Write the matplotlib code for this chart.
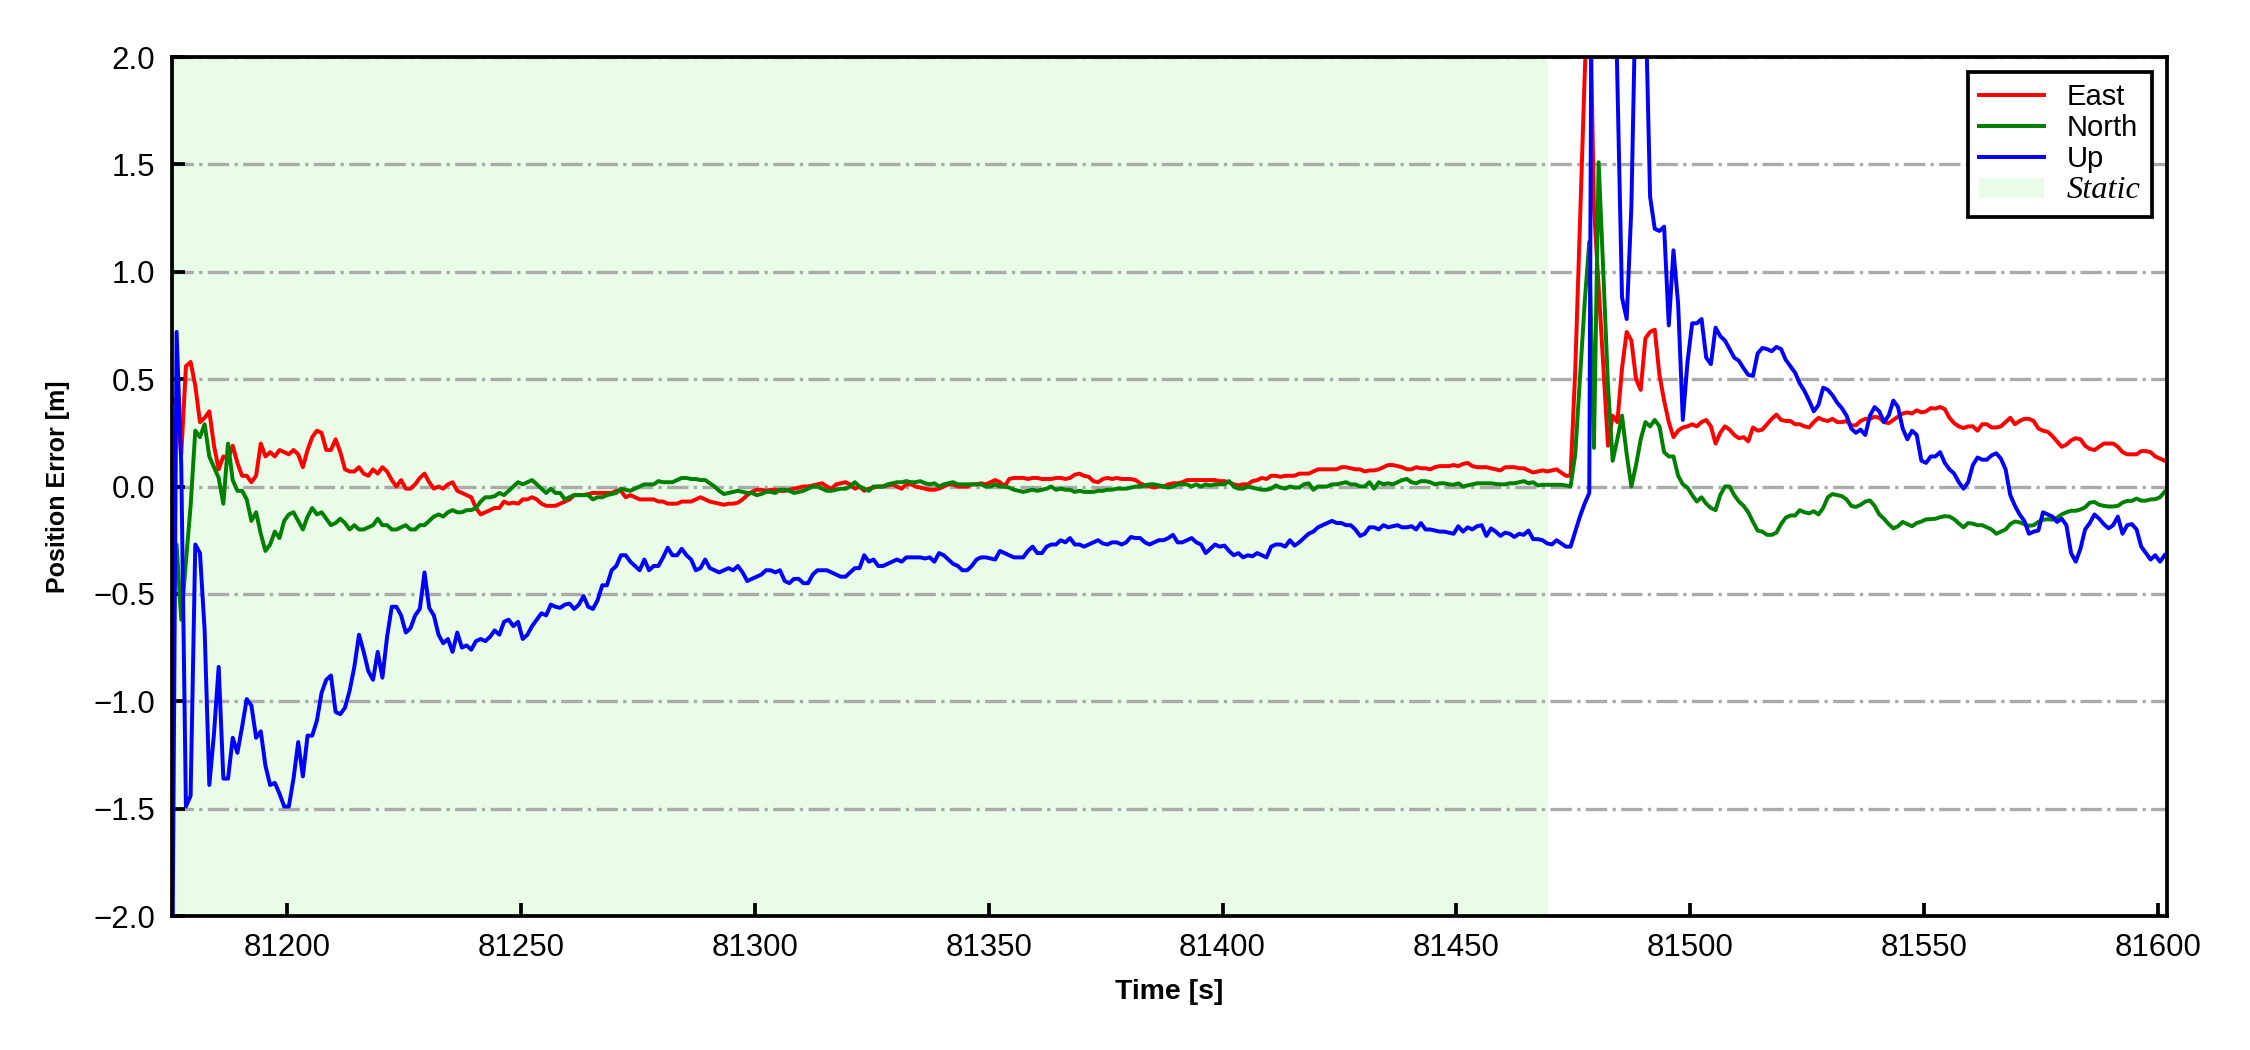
import numpy as np
import matplotlib
matplotlib.use("Agg")
import matplotlib.pyplot as plt
from matplotlib.patches import Patch
from matplotlib.lines import Line2D

# ---------------- data ----------------
T0 = 81175.4          # first epoch [s]
DT = 1.0              # sampling interval [s]
STATIC_END = 81469.6  # end of static period [s]

east = [
    0.41, 0.39, 0.15, 0.56, 0.58, 0.47, 0.30, 0.32, 0.35, 0.19,
    0.08, 0.14, 0.13, 0.19, 0.11, 0.05, 0.05, 0.02, 0.05, 0.20,
    0.14, 0.16, 0.14, 0.17, 0.16, 0.15, 0.17, 0.15, 0.09, 0.17,
    0.23, 0.26, 0.25, 0.17, 0.17, 0.22, 0.16, 0.08, 0.07, 0.07,
    0.09, 0.06, 0.05, 0.08, 0.06, 0.09, 0.07, 0.03, 0.00, 0.03,
    -0.01, -0.01, 0.01, 0.04, 0.06, 0.02, -0.01, 0.00, -0.01, 0.01,
    0.02, -0.02, -0.03, -0.04, -0.05, -0.10, -0.13, -0.12, -0.11, -0.10,
    -0.10, -0.07, -0.08, -0.075, -0.08, -0.06, -0.06, -0.05, -0.06, -0.08,
    -0.09, -0.09, -0.09, -0.08, -0.07, -0.06, -0.04, -0.04, -0.04, -0.035,
    -0.03, -0.03, -0.03, -0.03, -0.03, -0.02, -0.02, -0.05, -0.04, -0.05,
    -0.06, -0.06, -0.06, -0.06, -0.07, -0.07, -0.08, -0.08, -0.08, -0.07,
    -0.07, -0.07, -0.06, -0.05, -0.06, -0.07, -0.075, -0.08, -0.085, -0.08,
    -0.08, -0.075, -0.06, -0.04, -0.025, -0.015, -0.015, -0.02, -0.015, -0.015,
    -0.02, -0.02, -0.015, -0.01, -0.005, 0.00, 0.00, 0.005, 0.01, 0.015,
    0.00, -0.01, 0.01, 0.015, 0.02, 0.01, -0.01, 0.00, -0.02, -0.01,
    -0.005, 0.00, 0.00, 0.005, 0.01, 0.00, -0.01, 0.01, 0.01, 0.00,
    -0.005, -0.01, -0.015, -0.015, -0.01, 0.00, 0.01, 0.01, 0.00, 0.00,
    0.00, 0.01, 0.01, 0.015, 0.01, 0.02, 0.03, 0.02, 0.00, 0.035,
    0.04, 0.04, 0.04, 0.035, 0.04, 0.04, 0.035, 0.035, 0.035, 0.04,
    0.04, 0.035, 0.04, 0.055, 0.06, 0.05, 0.045, 0.025, 0.02, 0.035,
    0.04, 0.035, 0.04, 0.035, 0.035, 0.035, 0.03, 0.015, 0.005, 0.00,
    -0.005, 0.00, 0.00, 0.01, 0.015, 0.015, 0.02, 0.03, 0.03, 0.03,
    0.03, 0.03, 0.03, 0.03, 0.025, 0.025, 0.02, 0.01, 0.005, 0.01,
    0.01, 0.025, 0.03, 0.04, 0.035, 0.05, 0.05, 0.045, 0.05, 0.05,
    0.05, 0.06, 0.06, 0.06, 0.07, 0.08, 0.08, 0.08, 0.08, 0.08,
    0.09, 0.09, 0.085, 0.08, 0.08, 0.07, 0.075, 0.075, 0.08, 0.09,
    0.10, 0.10, 0.095, 0.09, 0.08, 0.08, 0.09, 0.085, 0.085, 0.08,
    0.09, 0.095, 0.095, 0.095, 0.10, 0.095, 0.105, 0.11, 0.095, 0.09,
    0.09, 0.09, 0.085, 0.08, 0.075, 0.09, 0.09, 0.09, 0.085, 0.085,
    0.075, 0.065, 0.07, 0.075, 0.07, 0.075, 0.08, 0.065, 0.05, 0.05,
    0.54, 1.22, 1.90, 2.50, 1.30, 0.93, 0.56, 0.19, 0.33, 0.30,
    0.55, 0.72, 0.68, 0.50, 0.45, 0.69, 0.72, 0.73, 0.52, 0.40,
    0.30, 0.23, 0.26, 0.275, 0.28, 0.29, 0.28, 0.30, 0.31, 0.28,
    0.20, 0.25, 0.28, 0.265, 0.24, 0.225, 0.23, 0.21, 0.275, 0.26,
    0.265, 0.29, 0.315, 0.335, 0.31, 0.305, 0.305, 0.29, 0.29, 0.28,
    0.275, 0.30, 0.32, 0.31, 0.305, 0.315, 0.30, 0.30, 0.305, 0.285,
    0.285, 0.305, 0.315, 0.315, 0.325, 0.32, 0.30, 0.295, 0.31, 0.325,
    0.34, 0.345, 0.34, 0.355, 0.345, 0.35, 0.365, 0.363, 0.37, 0.36,
    0.32, 0.295, 0.28, 0.272, 0.28, 0.28, 0.26, 0.29, 0.29, 0.275,
    0.275, 0.28, 0.30, 0.32, 0.29, 0.305, 0.315, 0.315, 0.305, 0.27,
    0.26, 0.255, 0.235, 0.21, 0.185, 0.195, 0.215, 0.225, 0.22, 0.19,
    0.175, 0.17, 0.185, 0.20, 0.20, 0.20, 0.185, 0.16, 0.15, 0.15,
    0.15, 0.165, 0.165, 0.16, 0.14, 0.13, 0.12,
]

north = [
    -0.45, -0.27, -0.62, -0.35, -0.09, 0.26, 0.23, 0.29, 0.14, 0.09,
    0.04, -0.08, 0.20, 0.03, -0.02, -0.02, -0.06, -0.16, -0.12, -0.22,
    -0.30, -0.27, -0.21, -0.24, -0.16, -0.13, -0.12, -0.16, -0.20, -0.14,
    -0.10, -0.13, -0.12, -0.15, -0.18, -0.17, -0.15, -0.17, -0.20, -0.18,
    -0.20, -0.20, -0.19, -0.18, -0.15, -0.18, -0.18, -0.20, -0.20, -0.19,
    -0.18, -0.20, -0.20, -0.18, -0.18, -0.16, -0.14, -0.13, -0.14, -0.12,
    -0.11, -0.12, -0.12, -0.11, -0.11, -0.10, -0.07, -0.05, -0.05, -0.045,
    -0.03, -0.04, -0.02, 0.00, 0.02, 0.01, 0.02, 0.03, 0.01, -0.01,
    -0.03, -0.01, -0.03, -0.03, -0.06, -0.05, -0.04, -0.04, -0.04, -0.04,
    -0.06, -0.05, -0.05, -0.04, -0.035, -0.03, -0.01, -0.015, -0.02, -0.01,
    0.00, 0.01, 0.01, 0.01, 0.025, 0.02, 0.02, 0.02, 0.03, 0.04,
    0.04, 0.035, 0.035, 0.03, 0.03, 0.015, 0.00, -0.02, -0.035, -0.03,
    -0.025, -0.02, -0.025, -0.03, -0.03, -0.04, -0.035, -0.025, -0.025, -0.03,
    -0.015, -0.015, -0.02, -0.03, -0.025, -0.02, -0.01, 0.00, 0.00, -0.01,
    -0.02, -0.02, -0.015, -0.01, -0.01, 0.00, 0.02, 0.00, -0.01, -0.02,
    0.00, 0.00, 0.00, 0.01, 0.015, 0.02, 0.02, 0.025, 0.02, 0.02,
    0.025, 0.015, 0.01, 0.015, 0.00, 0.01, 0.015, 0.02, 0.01, 0.01,
    0.01, 0.01, 0.01, 0.01, 0.00, 0.00, 0.01, 0.00, 0.00, -0.005,
    -0.015, -0.02, -0.025, -0.02, -0.015, -0.02, -0.015, -0.01, 0.00, -0.015,
    -0.01, -0.015, -0.015, -0.025, -0.02, -0.025, -0.025, -0.025, -0.02, -0.02,
    -0.015, -0.015, -0.01, -0.01, -0.01, -0.005, 0.00, 0.00, 0.005, 0.01,
    0.01, 0.005, 0.00, -0.005, 0.00, 0.01, 0.01, 0.01, 0.00, 0.01,
    0.00, 0.01, 0.005, 0.01, 0.01, 0.01, 0.025, 0.00, -0.01, -0.01,
    0.00, -0.005, -0.01, -0.015, -0.015, -0.01, 0.005, -0.005, -0.01, 0.00,
    -0.005, -0.005, 0.01, 0.015, -0.015, 0.00, 0.00, 0.00, 0.01, 0.01,
    0.015, 0.02, 0.01, 0.01, 0.00, 0.00, 0.02, -0.01, 0.02, 0.01,
    0.015, 0.01, 0.02, 0.03, 0.035, 0.02, 0.015, 0.025, 0.025, 0.02,
    0.01, 0.015, 0.015, 0.01, 0.008, 0.015, 0.00, 0.005, 0.01, 0.015,
    0.015, 0.015, 0.015, 0.012, 0.01, 0.01, 0.015, 0.015, 0.02, 0.025,
    0.015, 0.02, 0.005, 0.008, 0.008, 0.008, 0.008, 0.008, 0.005, 0.00,
    0.15, 0.50, 0.85, 1.14, 0.18, 1.51, 1.00, 0.47, 0.12, 0.22,
    0.33, 0.15, 0.00, 0.10, 0.22, 0.30, 0.28, 0.31, 0.28, 0.16,
    0.14, 0.14, 0.05, 0.01, -0.005, -0.04, -0.07, -0.05, -0.08, -0.10,
    -0.11, -0.04, 0.00, 0.00, -0.04, -0.07, -0.09, -0.12, -0.165, -0.205,
    -0.21, -0.225, -0.225, -0.215, -0.175, -0.145, -0.135, -0.135, -0.11, -0.12,
    -0.125, -0.115, -0.13, -0.10, -0.05, -0.035, -0.04, -0.045, -0.06, -0.09,
    -0.095, -0.085, -0.07, -0.065, -0.09, -0.13, -0.15, -0.175, -0.195, -0.185,
    -0.165, -0.175, -0.185, -0.17, -0.163, -0.153, -0.152, -0.15, -0.143, -0.138,
    -0.14, -0.152, -0.172, -0.19, -0.17, -0.173, -0.18, -0.18, -0.19, -0.20,
    -0.22, -0.21, -0.20, -0.175, -0.163, -0.167, -0.175, -0.183, -0.18, -0.165,
    -0.155, -0.152, -0.155, -0.145, -0.13, -0.12, -0.113, -0.113, -0.107, -0.097,
    -0.075, -0.072, -0.085, -0.09, -0.093, -0.093, -0.09, -0.075, -0.067, -0.067,
    -0.056, -0.066, -0.066, -0.06, -0.059, -0.05, -0.025,
]

up = [
    -2.6, 0.72, 0.10, -1.49, -1.44, -0.27, -0.31, -0.67, -1.39, -1.15,
    -0.84, -1.36, -1.36, -1.17, -1.24, -1.12, -0.99, -1.02, -1.17, -1.14,
    -1.30, -1.39, -1.38, -1.43, -1.49, -1.49, -1.36, -1.19, -1.35, -1.16,
    -1.16, -1.09, -0.96, -0.90, -0.88, -1.05, -1.06, -1.03, -0.95, -0.84,
    -0.69, -0.77, -0.86, -0.90, -0.77, -0.89, -0.70, -0.56, -0.56, -0.60,
    -0.68, -0.66, -0.60, -0.57, -0.40, -0.565, -0.60, -0.69, -0.73, -0.71,
    -0.77, -0.68, -0.75, -0.74, -0.76, -0.72, -0.71, -0.72, -0.70, -0.67,
    -0.69, -0.63, -0.62, -0.65, -0.63, -0.71, -0.69, -0.65, -0.62, -0.59,
    -0.60, -0.55, -0.56, -0.565, -0.55, -0.545, -0.57, -0.55, -0.51, -0.56,
    -0.57, -0.53, -0.46, -0.46, -0.39, -0.37, -0.32, -0.32, -0.35, -0.37,
    -0.39, -0.34, -0.39, -0.37, -0.37, -0.33, -0.285, -0.32, -0.32, -0.29,
    -0.32, -0.34, -0.39, -0.38, -0.34, -0.38, -0.39, -0.40, -0.39, -0.38,
    -0.39, -0.37, -0.40, -0.44, -0.43, -0.42, -0.41, -0.39, -0.39, -0.40,
    -0.39, -0.44, -0.45, -0.43, -0.43, -0.45, -0.45, -0.41, -0.39, -0.39,
    -0.39, -0.40, -0.41, -0.42, -0.42, -0.40, -0.38, -0.38, -0.32, -0.35,
    -0.34, -0.37, -0.37, -0.36, -0.35, -0.34, -0.35, -0.33, -0.33, -0.33,
    -0.33, -0.335, -0.33, -0.35, -0.31, -0.32, -0.34, -0.36, -0.37, -0.39,
    -0.39, -0.37, -0.34, -0.33, -0.33, -0.335, -0.34, -0.30, -0.31, -0.32,
    -0.33, -0.33, -0.33, -0.30, -0.28, -0.31, -0.31, -0.28, -0.27, -0.27,
    -0.25, -0.26, -0.24, -0.27, -0.27, -0.28, -0.27, -0.26, -0.25, -0.265,
    -0.27, -0.26, -0.26, -0.27, -0.26, -0.235, -0.24, -0.24, -0.26, -0.27,
    -0.26, -0.25, -0.25, -0.24, -0.225, -0.26, -0.26, -0.25, -0.24, -0.26,
    -0.27, -0.31, -0.29, -0.27, -0.28, -0.275, -0.30, -0.32, -0.31, -0.33,
    -0.32, -0.325, -0.31, -0.32, -0.33, -0.28, -0.27, -0.27, -0.28, -0.25,
    -0.275, -0.26, -0.24, -0.22, -0.21, -0.19, -0.18, -0.17, -0.16, -0.17,
    -0.17, -0.18, -0.18, -0.20, -0.23, -0.22, -0.19, -0.19, -0.20, -0.18,
    -0.19, -0.185, -0.18, -0.19, -0.19, -0.185, -0.20, -0.17, -0.20, -0.20,
    -0.205, -0.21, -0.21, -0.215, -0.22, -0.185, -0.21, -0.19, -0.20, -0.185,
    -0.18, -0.23, -0.195, -0.21, -0.23, -0.215, -0.22, -0.235, -0.22, -0.225,
    -0.205, -0.245, -0.245, -0.25, -0.265, -0.27, -0.25, -0.265, -0.28, -0.28,
    -0.21, -0.14, -0.08, -0.03, 5.0, 4.5, 4.0, 3.6, 3.0, 1.9,
    0.88, 0.78, 1.3, 2.4, 3.0, 2.3, 1.35, 1.2, 1.19, 1.21,
    0.75, 1.10, 0.85, 0.31, 0.58, 0.76, 0.76, 0.78, 0.60, 0.57,
    0.74, 0.70, 0.68, 0.64, 0.60, 0.585, 0.55, 0.52, 0.515, 0.62,
    0.645, 0.64, 0.63, 0.65, 0.64, 0.59, 0.56, 0.53, 0.48, 0.445,
    0.40, 0.35, 0.38, 0.46, 0.45, 0.425, 0.39, 0.365, 0.33, 0.27,
    0.25, 0.265, 0.24, 0.33, 0.37, 0.35, 0.30, 0.33, 0.40, 0.37,
    0.27, 0.22, 0.26, 0.24, 0.12, 0.11, 0.14, 0.14, 0.16, 0.11,
    0.08, 0.06, 0.02, -0.01, 0.02, 0.10, 0.135, 0.125, 0.125, 0.145,
    0.155, 0.13, 0.08, -0.04, -0.09, -0.13, -0.16, -0.22, -0.21, -0.205,
    -0.12, -0.13, -0.14, -0.165, -0.15, -0.18, -0.31, -0.35, -0.29, -0.20,
    -0.17, -0.13, -0.15, -0.175, -0.195, -0.18, -0.14, -0.22, -0.18, -0.175,
    -0.20, -0.28, -0.31, -0.34, -0.32, -0.35, -0.32,
]

series_names = ["East", "North", "Up"]
series_colors = ["red", "green", "blue"]
static_label = "Static"
static_color = "#e8fce8"
x_ticks = [81200, 81250, 81300, 81350, 81400, 81450, 81500, 81550, 81600]
y_ticks = [-2.0, -1.5, -1.0, -0.5, 0.0, 0.5, 1.0, 1.5, 2.0]
x_label = "Time [s]"
y_label = "Position Error [m]"

# ---------------- plot ----------------
plt.rcParams["font.family"] = ["Liberation Sans", "DejaVu Sans"]
plt.rcParams["axes.unicode_minus"] = True

n = len(east)
time = T0 + DT * np.arange(n)

fig = plt.figure(figsize=(7.5, 3.5), dpi=300)
ax = fig.add_axes([0.0764, 0.1276, 0.8867, 0.8181])

ax.axvspan(time[0] - 1, STATIC_END, color=static_color, lw=0, zorder=0.1)

for vals, name, col in zip([east, north, up], series_names, series_colors):
    ax.plot(time, vals, color=col, lw=0.95, label=name, zorder=2)

ax.set_xlim(81175.4, 81601.9)
ax.set_ylim(-2.0, 2.0)
ax.set_xticks(x_ticks)
ax.set_yticks(y_ticks)
ax.set_xticklabels([str(v) for v in x_ticks])
ax.set_yticklabels([f"{v:.1f}".replace("-", "\u2212") for v in y_ticks])

ax.set_axisbelow(True)
ax.yaxis.grid(True, linestyle="-.", color="#aaaaaa", lw=0.8, zorder=0.5)
ax.xaxis.grid(False)

ax.tick_params(direction="in", length=3.2, width=0.9, labelsize=7.5,
               top=False, right=False)
ax.tick_params(axis="x", pad=4)
ax.tick_params(axis="y", pad=4)
for sp in ax.spines.values():
    sp.set_linewidth(0.9)
    sp.set_color("black")

ax.set_xlabel(x_label, fontsize=6.8, fontweight="bold", labelpad=4)
ax.set_ylabel(y_label, fontsize=6.0, fontweight="bold", labelpad=5.5)

handles = [Line2D([], [], color=c, lw=0.95) for c in series_colors]
handles.append(Patch(facecolor=static_color, edgecolor="none"))
labels = series_names + [static_label]
leg = ax.legend(handles, labels, loc="upper right", fontsize=7,
                frameon=True, fancybox=False, framealpha=1,
                edgecolor="black", borderaxespad=0.5,
                handlelength=2.2, labelspacing=0.1, borderpad=0.4)
leg.get_frame().set_linewidth(0.9)
for txt in leg.get_texts():
    if txt.get_text() == static_label:
        txt.set_family(["Liberation Serif", "DejaVu Serif"])
        txt.set_style("italic")
        txt.set_fontsize(7.8)

fig.savefig("out.png", dpi=300)
